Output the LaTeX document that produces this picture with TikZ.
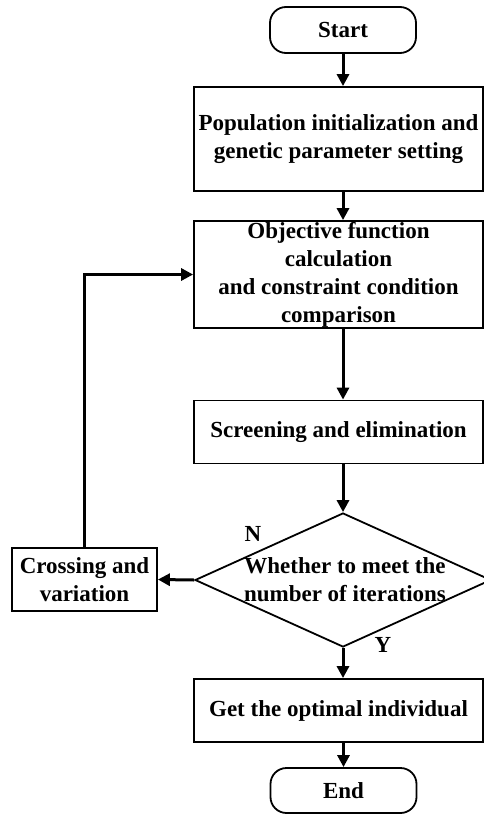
\documentclass[tikz,border=0pt]{standalone}
\usepackage{fontspec}
\setmainfont{Liberation Serif}
\usetikzlibrary{shapes.geometric,arrows.meta}

\begin{document}
\begin{tikzpicture}[x=1pt,y=1pt,yscale=-1,xscale=1,
        font=\fontsize{23}{28}\selectfont\bfseries,
        procbox/.style={draw,line width=1.8,minimum width=289,minimum height=63,inner sep=0,align=center},
        termbox/.style={draw,line width=1.8,rounded corners=16,minimum width=146,minimum height=46,inner sep=0},
        arr/.style={line width=3,-{Triangle[length=12pt,width=12pt]}}]
        \useasboundingbox (0,0) rectangle (484,814);
        \clip (0,0) rectangle (484,814);
        
        %Shape: Rounded Rect
        \node [termbox] (start) at (343,30) {Start};
        %Shape: Rectangle
        \node [procbox,minimum height=104] (init) at (338.5,139) {Population initialization and\\genetic parameter setting};
        %Shape: Rectangle
        \node [procbox,minimum height=107] (obj) at (338.5,274.5) {Objective function\\calculation\\and constraint condition\\comparison};
        %Shape: Rectangle
        \node [procbox] (screen) at (338.5,432) {Screening and elimination};
        %Shape: Diamond
        \node [draw,diamond,line width=1.8,minimum width=296,minimum height=134,inner sep=0] (judge) at (343,580) {};
        %Shape: Rectangle
        \node [procbox,minimum width=145] (cross) at (84.5,579.5) {Crossing and\\variation};
        %Shape: Rectangle
        \node [procbox] (best) at (338.5,710.5) {Get the optimal individual};
        %Shape: Rounded Rect
        \node [termbox,minimum height=45] (end) at (343.5,790.5) {End};
        
        % Text Node
        \node [inner sep=0,align=center] (judgetext) at (345,580) {Whether to meet the\\number of iterations};
        % Text Node
        \node [inner sep=0] (labN) at (253,534) {N};
        % Text Node
        \node [inner sep=0] (labY) at (383,645) {Y};
        
        %Straight Lines
        \draw [arr] (start.south) -- (start |- init.north);
        \draw [arr] (start |- init.south) -- (start |- obj.north);
        \draw [arr] (start |- obj.south) -- (start |- screen.north);
        \draw [arr] (start |- screen.south) -- (judge.north);
        \draw [arr] (judge.west) -- (cross.east);
        \draw [arr] (cross.north) |- (obj.west);
        \draw [arr] (judge.south) -- (judge.south |- best.north);
        \draw [arr] (end |- best.south) -- (end.north);
        
\end{tikzpicture}
\end{document}
